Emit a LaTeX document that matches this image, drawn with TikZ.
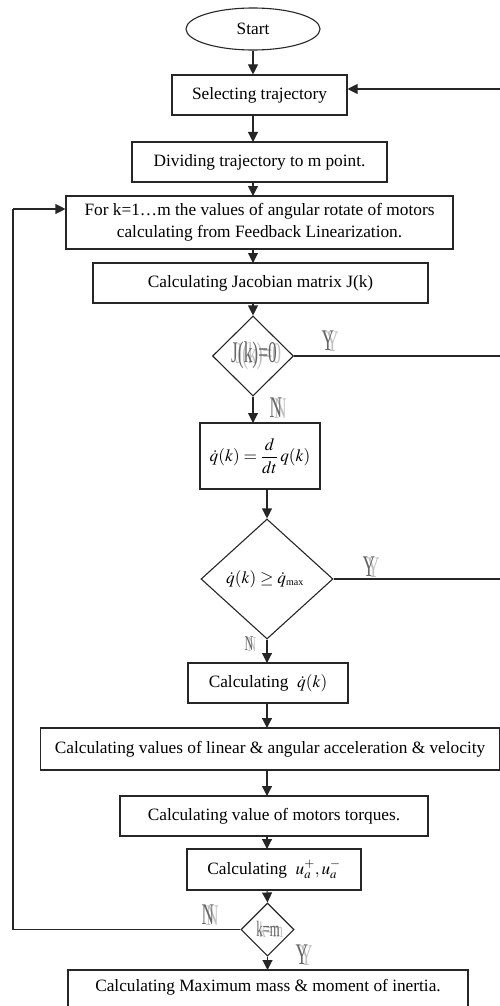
\documentclass[tikz,border=0pt]{standalone}
\usepackage{mathptmx}
\usepackage{graphicx}
\usepackage{fontspec}
\setmainfont{Liberation Serif}
\usetikzlibrary{shapes.geometric,arrows.meta}
\newcommand\gh[2][30]{\scalebox{0.58}[1]{\fontsize{#1}{#1}\selectfont\rlap{\hspace{0.25em}\raisebox{-0.04em}{\color{black!25}#2}}\color{black!60}#2}}
\tikzset{
  box/.style={draw, rectangle, inner sep=0pt, align=center, font=\fontsize{17.3}{22}\selectfont},
  dia/.style={draw, diamond, inner sep=0pt, aspect=1},
  oval/.style={draw, ellipse, inner sep=0pt, font=\fontsize{17.3}{22}\selectfont},
  arr/.style={-{Triangle[width=10pt,length=10pt]}},
  lab/.style={inner sep=0pt}
}
\begin{document}
\begin{tikzpicture}[x=1pt, y=-1pt, line width=1.1pt, draw=black!85]
\useasboundingbox (0,0) rectangle (500,1006);
\clip (0,0) rectangle (500,1006);
% nodes
\node[oval, minimum width=134, minimum height=42] (start) at (253,29) {Start};
\node[box, minimum width=175, minimum height=40] (sel) at (259.5,95) {Selecting trajectory};
\node[box, minimum width=255, minimum height=40] (div) at (259.5,162) {Dividing trajectory to m point.};
\node[box, minimum width=387, minimum height=53] (for) at (259.5,222.5) {For k=1\ldots m the values of angular rotate of motors\\calculating from Feedback Linearization.};
\node[box, minimum width=335, minimum height=40] (jac) at (260.5,283) {Calculating Jacobian matrix J(k)};
\node[dia, minimum width=81, minimum height=80] (d1) at (253,356) {};
\node[lab] at (254,356) {\gh{J(k)=0}};
\node[box, minimum width=120, minimum height=66] (qd) at (260,456) {$\displaystyle\dot{q}(k)=\frac{d}{dt}\,q(k)$};
\node[dia, minimum width=132, minimum height=120] (d2) at (267,579) {};
\node[lab, font=\fontsize{17.3}{22}\selectfont] at (265,579) {$\dot{q}(k)\geq\dot{q}_{\mbox{\fontsize{10}{10}\selectfont max}}$};
\node[box, minimum width=160, minimum height=40] (cq) at (268,683) {Calculating\ \ $\dot{q}(k)$};
\node[box, minimum width=459, minimum height=42] (cv) at (270,749) {Calculating values of linear \& angular acceleration \& velocity};
\node[box, minimum width=308, minimum height=40] (tq) at (274,816) {Calculating value of motors torques.};
\node[box, minimum width=174, minimum height=41] (ua) at (274,869.5) {Calculating\ \ $u_a^{+},u_a^{-}$};
\node[dia, minimum width=53, minimum height=53] (d3) at (267.5,929.5) {};
\node[lab] at (268,929.5) {\gh[22]{k=m}};
\node[box, minimum width=400, minimum height=80] (fin) at (268,1010) {};
\node[lab, font=\fontsize{17.3}{22}\selectfont] at (268,987) {Calculating Maximum mass \& moment of inertia.};
% labels
\node[lab] at (328,341) {\gh{Y}};
\node[lab] at (276,408) {\gh{N}};
\node[lab] at (369,567) {\gh{Y}};
\node[lab] at (249,644) {\gh[21]{N}};
\node[lab] at (208,915) {\gh{N}};
\node[lab] at (302,955) {\gh{Y}};
% coordinates
\coordinate (redge) at (500,0);
\coordinate (r0) at (500,89);
\coordinate (lp) at (13,929.5);
\coordinate (lt) at (13,209);
% connectors
\draw[arr] (start.south) -- (start.south |- sel.north);
\draw[arr] (r0) -- (sel.east |- r0);
\draw[arr] (253,115) -- (253,142);
\draw[arr] (253,182) -- (253,196);
\draw[arr] (253,249) -- (253,263);
\draw[arr] (253,303) -- (d1.north);
\draw[arr] (d1.south) -- (253,423);
\draw (d1.east) -- (d1.east -| redge);
\draw[arr] (d2.north |- qd.south) -- (d2.north);
\draw (d2.east) -- (d2.east -| redge);
\draw[arr] (d2.south) -- (267,663);
\draw[arr] (267,703) -- (267,728);
\draw[arr] (267,770) -- (267,796);
\draw[arr] (267,836) -- (267,849);
\draw[arr] (267,890) -- (d3.north);
\draw[arr] (d3.south) -- (267.5,970);
\draw (d3.west) -- (lp) -- (lt);
\draw[arr] (lt) -- (for.west |- lt);
\end{tikzpicture}
\end{document}
